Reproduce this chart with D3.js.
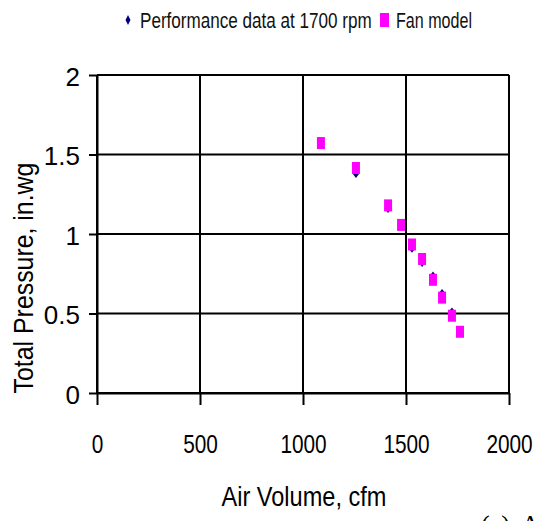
<!DOCTYPE html>
<html>
<head>
<meta charset="utf-8">
<script src="https://cdn.jsdelivr.net/npm/d3@7"></script>
<style>
  html, body { margin: 0; padding: 0; background: #fff; }
  svg { display: block; }
  .narrow { font-family: "Liberation Sans Narrow", "Arial Narrow", "Liberation Sans", Arial, sans-serif; }
</style>
</head>
<body>
<svg id="chart" width="535" height="521"></svg>
<script>
// ---- data ----
const xTicks = [0, 500, 1000, 1500, 2000];
const yTicks = [0, 0.5, 1, 1.5, 2];
const yTickLabels = ["0", "0.5", "1", "1.5", "2"];
const xTickLabels = ["0", "500", "1000", "1500", "2000"];

const perfAirVolume = [1257, 1413, 1476, 1529, 1578, 1631, 1675, 1723];
const perfPressure  = [1.38, 1.16, 1.05, 0.91, 0.82, 0.736, 0.626, 0.51];

const fanAirVolume = [1087, 1257, 1413, 1476, 1529, 1578, 1631, 1675, 1723, 1762];
const fanPressure  = [1.572, 1.415, 1.18, 1.057, 0.934, 0.843, 0.712, 0.60, 0.486, 0.385];

const seriesNames = ["Performance data at 1700 rpm", "Fan model"];
const xTitle = "Air Volume, cfm";
const yTitle = "Total Pressure, in.wg";
const caption = "(c) A";

// ---- helpers ----
function squeeze(sel, k) {
  sel.each(function() {
    const t = d3.select(this);
    const ax = +t.attr("x") || 0, ay = +t.attr("y") || 0;
    t.attr("transform", `translate(${ax},${ay}) scale(${k},1) translate(${-ax},${-ay})`);
  });
}
function squeezeTo(sel, width) {
  const n = sel.node().getComputedTextLength();
  squeeze(sel, width / n);
}

// ---- layout ----
const svg = d3.select("#chart");
const x = d3.scaleLinear().domain([0, 2000]).range([97, 509]);
const y = d3.scaleLinear().domain([0, 2]).range([393, 75]);

// gridlines
const grid = svg.append("g");
grid.selectAll("line.v").data(xTicks).join("line")
  .attr("x1", d => x(d)).attr("x2", d => x(d))
  .attr("y1", y(0)).attr("y2", y(2))
  .attr("stroke", "#000").attr("stroke-width", 2);
grid.selectAll("line.h").data(yTicks).join("line")
  .attr("x1", x(0)).attr("x2", x(2000))
  .attr("y1", d => y(d)).attr("y2", d => y(d))
  .attr("stroke", "#000").attr("stroke-width", 2);

// axes
const xAxis = svg.append("g").attr("transform", `translate(0,${y(0)})`)
  .call(d3.axisBottom(x).tickValues(xTicks).tickFormat((d, i) => xTickLabels[i])
        .tickSize(12).tickPadding(30).tickSizeOuter(0));
const yAxis = svg.append("g").attr("transform", `translate(${x(0)},0)`)
  .call(d3.axisLeft(y).tickValues(yTicks).tickFormat((d, i) => yTickLabels[i])
        .tickSize(8).tickPadding(9).tickSizeOuter(0));

[xAxis, yAxis].forEach(a => {
  a.select(".domain").attr("stroke", "#000").attr("stroke-width", 2);
  a.selectAll(".tick line").attr("stroke", "#000").attr("stroke-width", 2);
  a.selectAll(".tick text").attr("class", "narrow").attr("fill", "#000")
    .style("font-size", "26px");
});
yAxis.selectAll(".tick text").attr("dy", "0.4em");
squeeze(xAxis.selectAll(".tick text"), 0.8);

// series
const diamond = (cx, cy, w, h) => `M${cx},${cy - h/2}L${cx + w/2},${cy}L${cx},${cy + h/2}L${cx - w/2},${cy}Z`;
const perf = perfAirVolume.map((v, i) => ({x: v, y: perfPressure[i]}));
const fan = fanAirVolume.map((v, i) => ({x: v, y: fanPressure[i]}));

svg.append("g").selectAll("path").data(perf).join("path")
  .attr("d", d => diamond(x(d.x), y(d.y), 7, 9))
  .attr("fill", "#000080");

svg.append("g").selectAll("rect").data(fan).join("rect")
  .attr("x", d => x(d.x) - 4).attr("y", d => y(d.y) - 6)
  .attr("width", 8).attr("height", 12)
  .attr("fill", "#ff00ff");

// legend
const lg = svg.append("g");
lg.append("path").attr("d", diamond(128, 20, 5, 10)).attr("fill", "#000080");
const lt1 = lg.append("text").attr("class", "narrow").attr("x", 140).attr("y", 28)
  .style("font-size", "22px").attr("fill", "#111").text(seriesNames[0]);
squeezeTo(lt1, 232);
lg.append("rect").attr("x", 380).attr("y", 13).attr("width", 9).attr("height", 14).attr("fill", "#ff00ff");
const lt2 = lg.append("text").attr("class", "narrow").attr("x", 396).attr("y", 28)
  .style("font-size", "22px").attr("fill", "#111").text(seriesNames[1]);
squeezeTo(lt2, 76);

// axis titles
const xt = svg.append("text").attr("class", "narrow").attr("x", 304).attr("y", 506)
  .attr("text-anchor", "middle").style("font-size", "28px").attr("fill", "#000").text(xTitle);
squeezeTo(xt, 165);
const ytg = svg.append("g").attr("transform", "translate(33,278) rotate(-90)");
const yt = ytg.append("text").attr("class", "narrow").attr("x", 0).attr("y", 0)
  .attr("text-anchor", "middle").style("font-size", "28px").attr("fill", "#000").text(yTitle);
squeezeTo(yt, 231);

// clipped caption at bottom right
svg.append("text").attr("x", 481).attr("y", 533)
  .style("font-family", "'Liberation Serif', 'Times New Roman', serif")
  .style("font-size", "26px").style("word-spacing", "6px").attr("fill", "#000").text(caption);
</script>
</body>
</html>
